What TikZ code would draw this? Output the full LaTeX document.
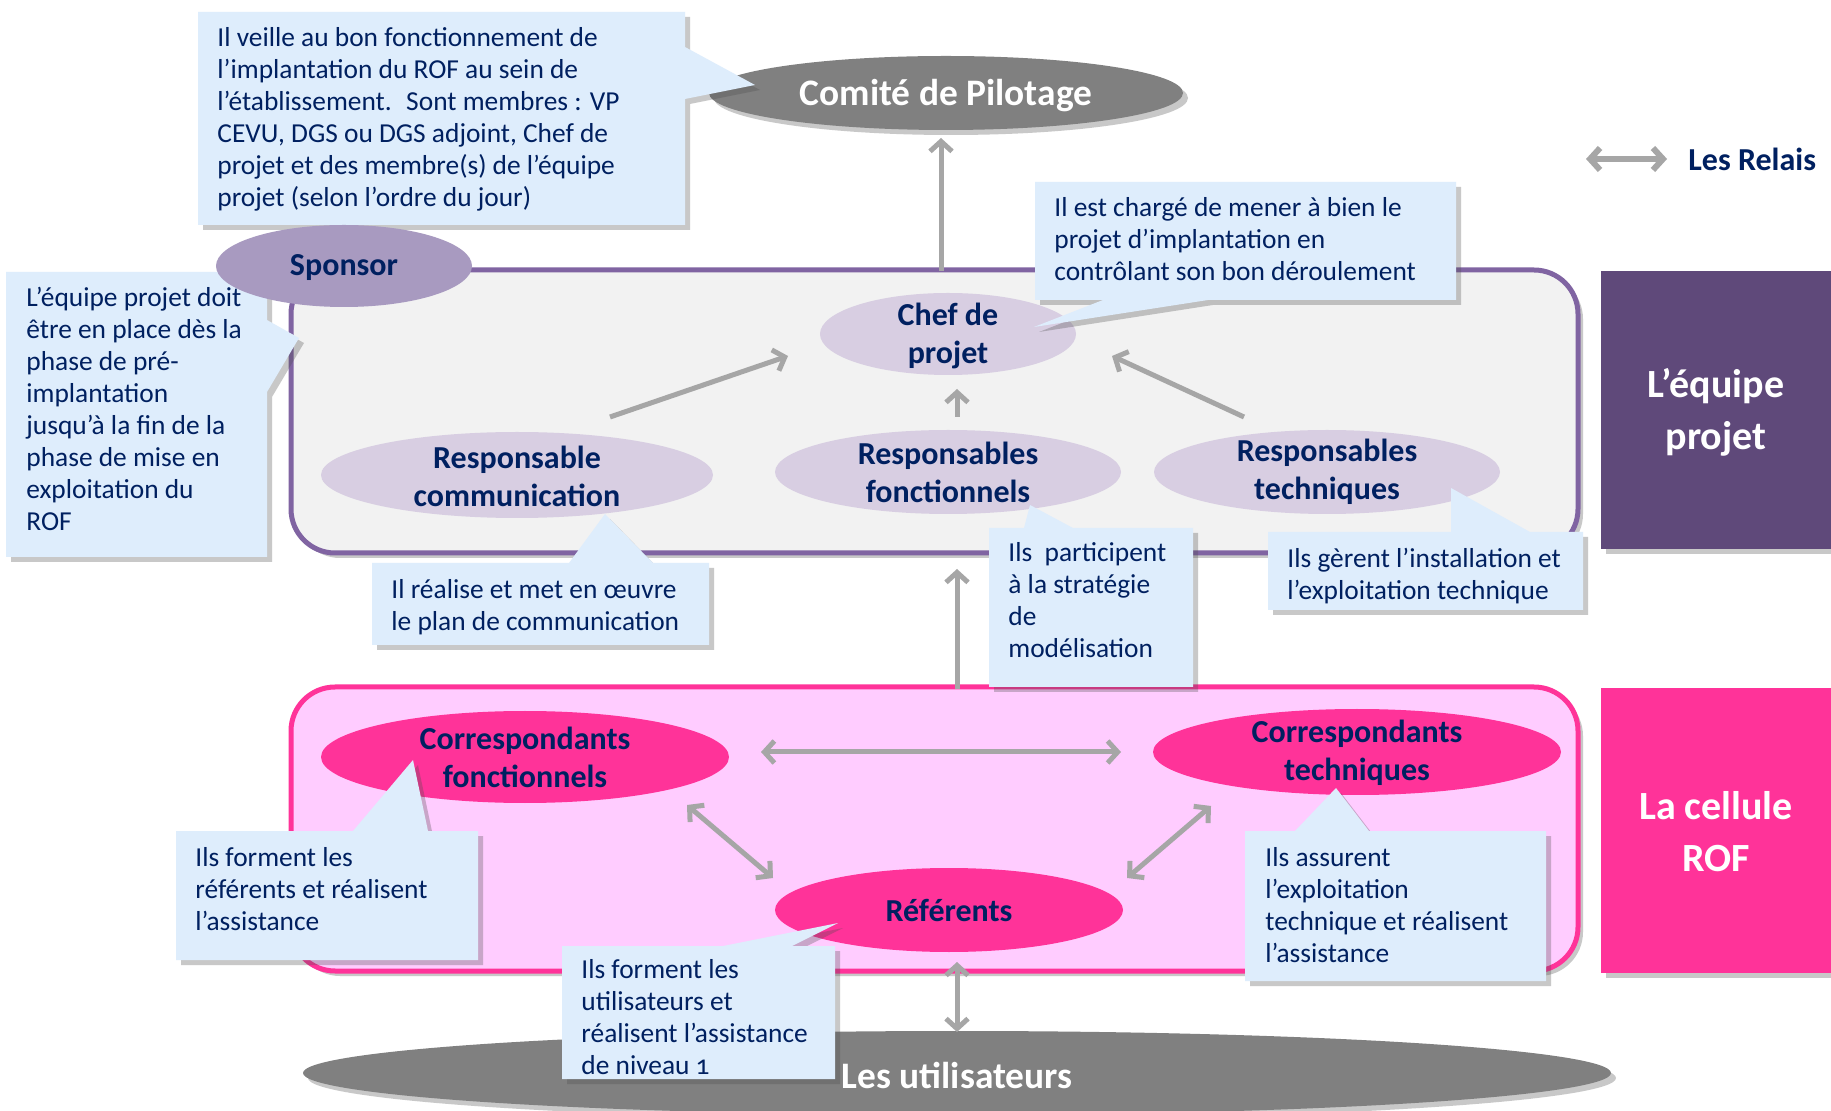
\documentclass[tikz,border=0pt]{standalone}
\usepackage{fontspec}
\setmainfont{Carlito}
\usetikzlibrary{shapes.geometric,arrows.meta,shadows}
\definecolor{navy}{RGB}{0,32,96}
\definecolor{callblue}{RGB}{222,237,252}
\definecolor{ellgray}{RGB}{128,128,128}
\definecolor{arrgray}{RGB}{166,166,166}
\definecolor{purpframe}{RGB}{128,100,162}
\definecolor{framefill}{RGB}{242,242,242}
\definecolor{sponsorc}{RGB}{168,154,192}
\definecolor{lavender}{RGB}{216,206,226}
\definecolor{darkpurple}{RGB}{95,73,122}
\definecolor{hotpink}{RGB}{255,51,153}
\definecolor{lightpink}{RGB}{255,204,255}
\tikzset{
  shad/.style={drop shadow={shadow xshift=2.5pt,shadow yshift=-2.5pt,opacity=0.3,fill=black!70}},
  frame/.style={rounded corners=22pt,line width=2.5pt,shad,inner sep=0pt},
  ell/.style={ellipse,inner sep=0pt},
  elltext/.style={font=\bfseries\fontsize{16}{19}\selectfont,text=navy,align=center},
  bigtext/.style={font=\bfseries\fontsize{18.7}{22}\selectfont,text=white,align=center},
  boxtext/.style={font=\bfseries\fontsize{20}{26}\selectfont,text=white,align=center},
  calltext/.style={font=\fontsize{13.7}{16}\selectfont,text=navy,align=left,anchor=north west,inner sep=0pt,yshift=-1.5pt},
  callbox/.style={fill=callblue,shad},
  tipa/.tip={Straight Barb[length=5pt,width=11pt]},
  arr/.style={draw=arrgray,line width=2.5pt,-tipa},
  darr/.style={draw=arrgray,line width=2.5pt,tipa-tipa},
}
\begin{document}
\begin{tikzpicture}[x=0.5pt,y=-0.5pt]
\useasboundingbox[fill=white] (0,0) rectangle (1831,1111);

% frames
\node[frame,draw=purpframe,fill=framefill,minimum width=643.5pt,minimum height=141.5pt] (equipe) at (934.5,411.5) {};
\node[frame,draw=hotpink,fill=lightpink,minimum width=643.5pt,minimum height=142pt] (cellule) at (934.5,829) {};

% right label boxes
\node[fill=darkpurple,shad,minimum width=115pt,minimum height=139pt,inner sep=0pt] (eqbox) at (1716,410) {};
\node[boxtext] (eqlabel) at (1716,412) {L’équipe\\projet};
\node[fill=hotpink,shad,minimum width=115pt,minimum height=142.5pt,inner sep=0pt] (cebox) at (1716,830.5) {};
\node[boxtext] (celabel) at (1716,832) {La cellule\\ROF};

% big gray ellipses
\node[ell,fill=ellgray,shad,minimum width=237pt,minimum height=37pt] (comite) at (946,93) {};
\node[bigtext] (comitet) at (946,96) {Comité de Pilotage};
\node[ell,fill=ellgray,shad,minimum width=654pt,minimum height=42pt] (users) at (957,1073) {};
\node[bigtext,anchor=center] (userst) at (957,1075) {Les utilisateurs};

% legend
\coordinate (rl1) at (1586,159);
\coordinate (rl2) at (1667,159);
\draw[darr,line width=3pt] (rl1) -- (rl2);
\node[font=\bfseries\fontsize{16}{19}\selectfont,text=navy,anchor=west,inner sep=0pt] (relais) at (1688,159) {Les Relais};

% inner ellipses (equipe)
\node[ell,fill=lavender,minimum width=128pt,minimum height=41pt] (chef) at (948,334) {};
\node[ell,fill=lavender,minimum width=196pt,minimum height=43pt] (rcomm) at (517,475) {};
\node[ell,fill=lavender,minimum width=173pt,minimum height=42pt] (rfonct) at (948,472) {};
\node[ell,fill=lavender,minimum width=173pt,minimum height=42pt] (rtech) at (1327,472) {};
\node[elltext] (cheft) at (948,336) {Chef de\\projet};
\node[elltext] (rcommt) at (517,476) {Responsable\\communication};
\node[elltext] (rfonctt) at (948,472) {Responsables\\fonctionnels};
\node[elltext] (rtecht) at (1327,472) {Responsables\\techniques};

% inner ellipses (cellule)
\node[ell,fill=hotpink,minimum width=204pt,minimum height=46pt] (cfonct) at (525,757) {};
\node[ell,fill=hotpink,minimum width=204pt,minimum height=43pt] (ctech) at (1357,752) {};
\node[ell,fill=hotpink,minimum width=174pt,minimum height=42pt] (refs) at (949,910) {};
\node[elltext] (cfonctt) at (525,757) {Correspondants\\fonctionnels};
\node[elltext] (ctecht) at (1357,753) {Correspondants\\techniques};
\node[elltext] (refst) at (949,910) {Référents};

% arrows
\coordinate (a0s) at (941,271); \coordinate (a0e) at (941,138);
\draw[arr] (a0s) -- (a0e);
\coordinate (a1s) at (610,417); \coordinate (a1e) at (788,356);
\draw[arr] (a1s) -- (a1e);
\coordinate (a2s) at (957,417); \coordinate (a2e) at (957,389);
\draw[arr] (a2s) -- (a2e);
\coordinate (a3s) at (1244,417); \coordinate (a3e) at (1112,356);
\draw[arr] (a3s) -- (a3e);
\coordinate (a4s) at (957,689); \coordinate (a4e) at (957,569);
\draw[arr] (a4s) -- (a4e);
\coordinate (d1s) at (761,752); \coordinate (d1e) at (1121,752);
\draw[darr] (d1s) -- (d1e);
\coordinate (d2s) at (687,805); \coordinate (d2e) at (773,878);
\draw[darr] (d2s) -- (d2e);
\coordinate (d3s) at (1211,806); \coordinate (d3e) at (1127,878);
\draw[darr] (d3s) -- (d3e);
\coordinate (d4s) at (957,962); \coordinate (d4e) at (957,1032);
\draw[darr] (d4s) -- (d4e);

% callouts
\path[callbox] (198,12) -- (685,12) -- (685,47) -- (755,85) -- (685,99) -- (685,225) -- (198,225) -- cycle;
\node[calltext] (c1) at (217,24) {Il veille au bon fonctionnement de\\l’implantation du ROF au sein de\\l’établissement.~ Sont membres : VP\\CEVU, DGS ou DGS adjoint, Chef de\\projet et des membre(s) de l’équipe\\projet (selon l’ordre du jour)};

\path[callbox] (6,272) -- (267,272) -- (267,320) -- (299,338) -- (267,392) -- (267,557) -- (6,557) -- cycle;
\node[ell,fill=sponsorc,minimum width=128pt,minimum height=41pt] (sponsor) at (344,266) {};
\node[elltext] (sponsort) at (344,268) {Sponsor};
\node[calltext] (c2) at (26,284) {L’équipe projet doit\\être en place dès la\\phase de pré-\\implantation\\jusqu’à la fin de la\\phase de mise en\\exploitation du\\ROF};

\path[callbox] (1035,182) -- (1456,182) -- (1456,300) -- (1208,300) -- (1034,327) -- (1103,300) -- (1035,300) -- cycle;
\node[calltext] (c3) at (1054,194) {Il est chargé de mener à bien le\\projet d’implantation en\\contrôlant son bon déroulement};

\path[callbox] (372,563) -- (569,563) -- (605,514) -- (653,563) -- (709,563) -- (709,645) -- (372,645) -- cycle;
\node[calltext] (c4) at (391,576) {Il réalise et met en œuvre\\le plan de communication};

\path[callbox] (989,528) -- (1024,528) -- (1030,505) -- (1073,528) -- (1193,528) -- (1193,687) -- (989,687) -- cycle;
\node[calltext] (c5) at (1008,539) {Ils~ participent\\à la stratégie\\de\\modélisation};

\path[callbox] (1268,532) -- (1451,532) -- (1451,488) -- (1530,532) -- (1583,532) -- (1583,610) -- (1268,610) -- cycle;
\node[calltext] (c6) at (1287,545) {Ils gèrent l’installation et\\l’exploitation technique};

\path[callbox] (176,831) -- (353,831) -- (413,760) -- (428,831) -- (478,831) -- (478,960) -- (176,960) -- cycle;
\node[calltext] (c7) at (195,844) {Ils forment les\\référents et réalisent\\l’assistance};

\path[callbox] (562,946) -- (723,946) -- (838,923) -- (792,946) -- (835,946) -- (835,1079) -- (562,1079) -- cycle;
\node[calltext] (c8) at (581,956) {Ils forment les\\utilisateurs et\\réalisent l’assistance\\de niveau {\addfontfeatures{Numbers=OldStyle}1}};

\path[callbox] (1245,831) -- (1295,831) -- (1336,788) -- (1369,831) -- (1546,831) -- (1546,981) -- (1245,981) -- cycle;
\node[calltext] (c9) at (1265,844) {Ils assurent\\l’exploitation\\technique et réalisent\\l’assistance};

\end{tikzpicture}
\end{document}
